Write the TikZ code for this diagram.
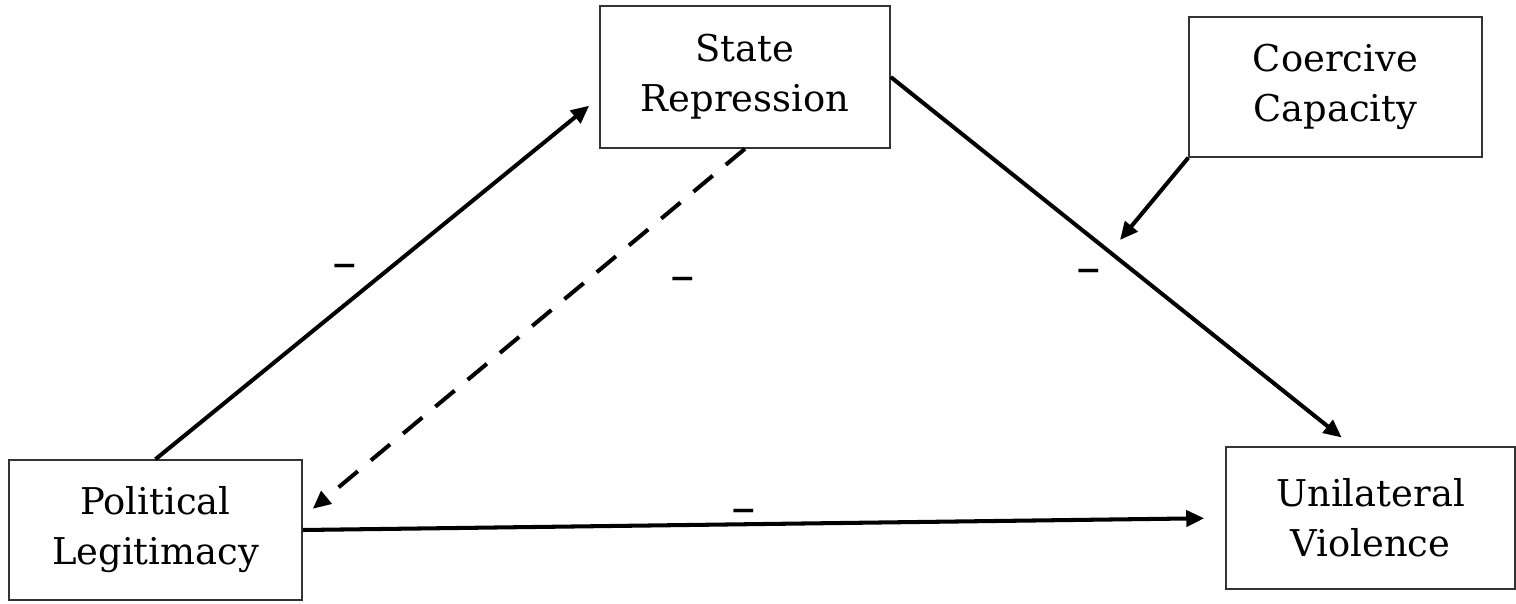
\documentclass[tikz,border=0pt]{standalone}
\usepackage{fontspec}
\setmainfont{DejaVu Serif}
\newfontfamily\dashfont{DejaVu Sans}
\usetikzlibrary{arrows.meta,calc}
\begin{document}
\begin{tikzpicture}[x=0.02cm,y=-0.02cm,
  varbox/.style={draw=black!80,line width=0.9pt,rectangle,align=center,
    font=\fontsize{21}{28.5}\selectfont,inner sep=0pt},
  arr/.style={line width=2.3pt,-{Triangle[length=0.36cm,width=0.32cm]}},
  dasharr/.style={arr,dash pattern=on 0.5cm off 0.34cm},
  minus/.style={font=\dashfont\fontsize{28}{28}\selectfont,inner sep=0pt}]
\useasboundingbox (0,0) rectangle (1516,603);
\node[varbox,minimum width=5.8cm,minimum height=2.84cm] (sr) at (745,77) {State\\Repression};
\node[varbox,minimum width=5.86cm,minimum height=2.8cm] (cc) at (1335.5,87) {Coercive\\Capacity};
\node[varbox,minimum width=5.86cm,minimum height=2.8cm] (pl) at (155.5,530) {Political\\Legitimacy};
\node[varbox,minimum width=5.78cm,minimum height=2.84cm] (uv) at (1370.5,518) {Unilateral\\Violence};
\coordinate (ccend) at (1120,240);
\draw[arr,shorten >=0.26cm] (pl.north) -- (sr.188);
\draw[dasharr,shorten >=0.26cm] (sr.south) -- (pl.5);
\draw[arr,shorten >=0.28cm] (sr.east) -- (uv.104);
\draw[arr] (cc.south west) -- (ccend);
\draw[arr,shorten >=0.42cm] (pl.east) -- (uv.west);
\node[minus] (m1) at (345,272) {–};
\node[minus] (m2) at (683,285) {–};
\node[minus] (m3) at (1089,277) {–};
\node[minus] (m4) at (744,517) {–};
\end{tikzpicture}
\end{document}
